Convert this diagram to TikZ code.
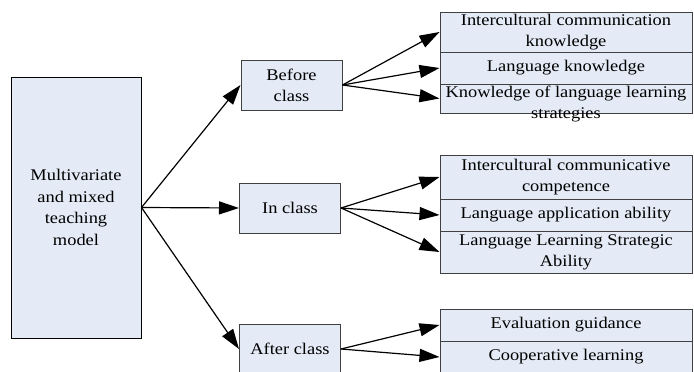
\documentclass[tikz,border=0pt]{standalone}
\usepackage{fontspec}
\setmainfont{Liberation Serif}
\newfontfamily\widefont{Liberation Serif}[FakeStretch=1.13]
\usetikzlibrary{arrows.meta}
\definecolor{boxfill}{RGB}{228,235,246}

\begin{document}
\begin{tikzpicture}[
  x=1pt, y=-1pt,
  mainbox/.style  = {rectangle, draw=black, line width=1pt, fill=boxfill,
                     minimum width=130pt, minimum height=261pt, inner sep=2pt,
                     align=center, font=\widefont\fontsize{16.3}{21.7}\selectfont},
  stagebox/.style = {rectangle, draw=black!75, line width=1pt, fill=boxfill,
                     minimum width=101pt, minimum height=50pt, inner sep=2pt,
                     align=center, font=\widefont\fontsize{16.3}{21}\selectfont},
  goalbox/.style  = {rectangle, draw=black!75, line width=1pt, fill=boxfill,
                     minimum width=252pt, inner sep=0pt,
                     align=center, font=\widefont\fontsize{16.3}{21}\selectfont},
  goaltext/.style = {inner sep=0pt, align=center, font=\widefont\fontsize{16.3}{21}\selectfont},
  arr/.style      = {-{Triangle[length=20pt, width=13pt]}, line width=1.2pt}
]
\useasboundingbox (0,0) rectangle (694,372);

%% ── Main block ───────────────────────────────────────────────────────────────
\node[mainbox] (model) at (76,207.5) {Multivariate\\and mixed\\teaching\\model};

%% ── Stages ───────────────────────────────────────────────────────────────────
\node[stagebox] (before) at (291.5,85) {Before\\class};
\node[stagebox] (inclass) at (290,208) {In class};
\node[stagebox] (after) at (290,349) {After class};

%% ── Goals: before class ──────────────────────────────────────────────────────
\node[goalbox, minimum height=40pt] (icknow)  at (566,32)   {Intercultural communication\\knowledge};
\node[goalbox, minimum height=32pt] (langkn)  at (566,68)   {Language knowledge};
\node[goalbox, minimum height=29pt] (strat)   at (566,98.5) {};
\node[goaltext] (strattxt) at (566,104.5) {Knowledge of language learning\\strategies};

%% ── Goals: in class ──────────────────────────────────────────────────────────
\node[goalbox, minimum height=44pt] (iccomp)  at (566,177)  {Intercultural communicative\\competence};
\node[goalbox, minimum height=32pt] (applab)  at (566,215)  {Language application ability};
\node[goalbox, minimum height=42pt] (stratab) at (566,252)  {Language Learning Strategic\\Ability};

%% ── Goals: after class ───────────────────────────────────────────────────────
\node[goalbox, minimum height=32pt] (evalg)   at (566,325)  {Evaluation guidance};
\node[goalbox, minimum height=32pt] (coop)    at (566,357)  {Cooperative learning};

%% ── Arrows ───────────────────────────────────────────────────────────────────
\draw[arr] (model.east) -- (before.west);
\draw[arr] (model.east) -- (inclass.west);
\draw[arr] (model.east) -- (after.west);

\draw[arr] (before.east) -- (icknow.west);
\draw[arr] (before.east) -- (langkn.west);
\draw[arr] (before.east) -- (strat.west);

\draw[arr] (inclass.east) -- (iccomp.west);
\draw[arr] (inclass.east) -- (applab.west);
\draw[arr] (inclass.east) -- (stratab.west);

\draw[arr] (after.east) -- (evalg.west);
\draw[arr] (after.east) -- (coop.west);

\end{tikzpicture}
\end{document}
